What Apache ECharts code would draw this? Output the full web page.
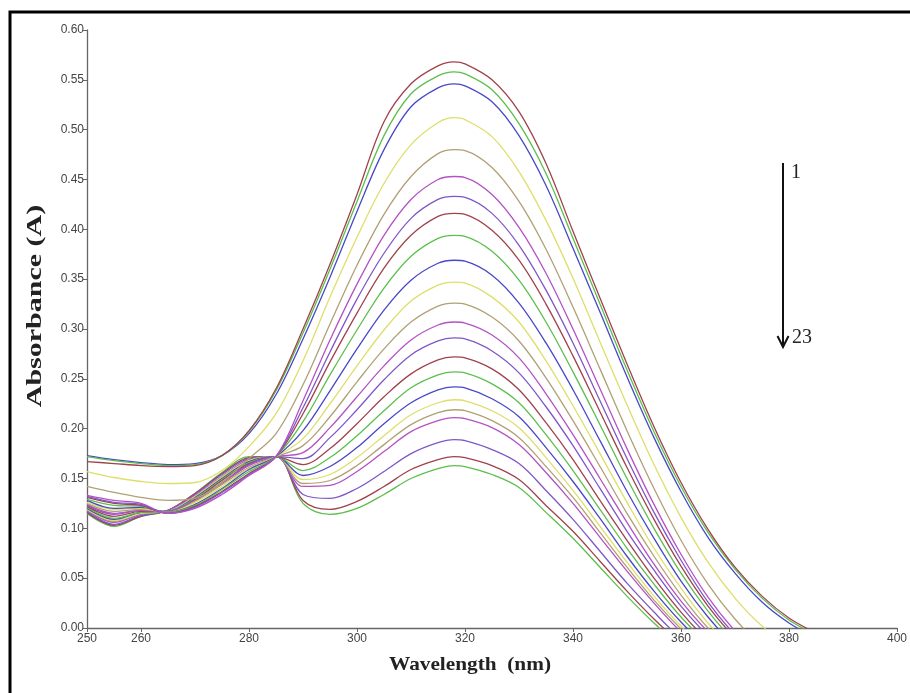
<!DOCTYPE html>
<html>
<head>
<meta charset="utf-8">
<script src="https://cdn.jsdelivr.net/npm/echarts@6/dist/echarts.min.js"></script>
<style>
html,body{margin:0;padding:0;background:#fff;}
#chart{width:910px;height:693px;}
</style>
</head>
<body>
<div id="chart"></div>
<script>
// wavelengths (nm)
const wavelengths = [250,255,260,265,270,275,280,285,290,295,300,305,310,315,318,320,325,330,335,340,345,350,355,360,365,370,375,380,385];
// x tick labels
const xTicks = [250,260,280,300,320,340,360,380,400];

// absorbance spectra 1..23
const s1  = [0.167,0.165,0.163,0.162,0.163,0.173,0.198,0.240,0.300,0.365,0.435,0.508,0.546,0.564,0.568,0.566,0.550,0.518,0.466,0.398,0.331,0.265,0.202,0.146,0.099,0.061,0.032,0.010,-0.005];
const s2  = [0.172,0.168,0.165,0.163,0.164,0.173,0.197,0.238,0.296,0.360,0.428,0.494,0.536,0.554,0.558,0.556,0.540,0.506,0.456,0.391,0.325,0.259,0.197,0.142,0.096,0.059,0.030,0.008,-0.007];
const s3  = [0.173,0.169,0.166,0.164,0.165,0.173,0.195,0.234,0.290,0.352,0.418,0.480,0.523,0.542,0.546,0.544,0.528,0.494,0.444,0.381,0.317,0.252,0.191,0.137,0.091,0.055,0.026,0.005,-0.010];
const s4  = [0.157,0.151,0.147,0.145,0.146,0.158,0.182,0.215,0.268,0.332,0.392,0.446,0.485,0.507,0.512,0.510,0.493,0.458,0.409,0.351,0.287,0.224,0.164,0.111,0.066,0.030,0.002,-0.018,-0.033];
const s5  = [0.142,0.136,0.131,0.128,0.130,0.146,0.170,0.195,0.244,0.305,0.364,0.415,0.453,0.476,0.480,0.479,0.462,0.428,0.380,0.322,0.260,0.198,0.140,0.088,0.044,0.009,-0.018,-0.038,-0.053];
const s6  = [0.133,0.128,0.125,0.115,0.120,0.134,0.153,0.172,0.228,0.289,0.345,0.394,0.430,0.450,0.453,0.452,0.435,0.402,0.356,0.300,0.240,0.180,0.124,0.074,0.031,-0.003,-0.030,-0.049,-0.063];
const s7  = [0.132,0.126,0.124,0.115,0.121,0.136,0.154,0.172,0.221,0.277,0.330,0.376,0.411,0.430,0.433,0.432,0.416,0.384,0.339,0.286,0.228,0.170,0.116,0.068,0.026,-0.007,-0.033,-0.051,-0.065];
const s8  = [0.131,0.125,0.123,0.115,0.122,0.137,0.155,0.172,0.215,0.267,0.316,0.361,0.394,0.413,0.416,0.415,0.399,0.369,0.325,0.273,0.217,0.161,0.109,0.062,0.022,-0.010,-0.035,-0.053,-0.066];
const s9  = [0.129,0.123,0.122,0.116,0.123,0.139,0.157,0.172,0.207,0.254,0.299,0.341,0.373,0.391,0.394,0.393,0.378,0.349,0.307,0.257,0.204,0.150,0.100,0.055,0.017,-0.014,-0.038,-0.055,-0.068];
const s10 = [0.128,0.120,0.121,0.116,0.124,0.140,0.159,0.172,0.198,0.238,0.280,0.319,0.349,0.366,0.369,0.368,0.354,0.326,0.286,0.239,0.188,0.137,0.090,0.047,0.011,-0.018,-0.041,-0.057,-0.069];
const s11 = [0.126,0.119,0.120,0.116,0.126,0.142,0.160,0.172,0.190,0.225,0.263,0.299,0.328,0.344,0.347,0.346,0.332,0.307,0.268,0.223,0.175,0.126,0.080,0.040,0.005,-0.022,-0.044,-0.060,-0.071];
const s12 = [0.125,0.117,0.119,0.116,0.127,0.144,0.161,0.172,0.183,0.212,0.247,0.280,0.307,0.323,0.326,0.325,0.312,0.288,0.251,0.208,0.162,0.115,0.072,0.033,0.000,-0.026,-0.047,-0.062,-0.073];
const s13 = [0.124,0.115,0.118,0.117,0.128,0.145,0.163,0.172,0.176,0.201,0.232,0.263,0.289,0.304,0.307,0.306,0.294,0.271,0.235,0.194,0.150,0.106,0.064,0.027,-0.004,-0.030,-0.049,-0.064,-0.074];
const s14 = [0.123,0.114,0.118,0.117,0.128,0.146,0.164,0.172,0.170,0.191,0.219,0.249,0.274,0.288,0.291,0.290,0.278,0.256,0.222,0.183,0.140,0.097,0.058,0.022,-0.008,-0.033,-0.051,-0.065,-0.075];
const s15 = [0.122,0.112,0.117,0.117,0.129,0.148,0.165,0.172,0.164,0.180,0.205,0.232,0.255,0.269,0.272,0.271,0.260,0.239,0.206,0.169,0.128,0.088,0.050,0.016,-0.013,-0.036,-0.054,-0.067,-0.077];
const s16 = [0.121,0.110,0.116,0.117,0.130,0.149,0.166,0.172,0.158,0.171,0.193,0.218,0.241,0.254,0.257,0.256,0.245,0.226,0.194,0.158,0.119,0.080,0.044,0.011,-0.016,-0.039,-0.056,-0.069,-0.078];
const s17 = [0.120,0.109,0.116,0.117,0.131,0.150,0.167,0.172,0.153,0.162,0.181,0.205,0.226,0.239,0.242,0.241,0.230,0.212,0.181,0.147,0.110,0.072,0.037,0.006,-0.020,-0.042,-0.058,-0.070,-0.079];
const s18 = [0.119,0.108,0.115,0.117,0.132,0.151,0.168,0.172,0.149,0.154,0.171,0.193,0.214,0.226,0.229,0.228,0.218,0.201,0.171,0.138,0.102,0.066,0.032,0.002,-0.023,-0.044,-0.059,-0.071,-0.080];
const s19 = [0.119,0.107,0.115,0.117,0.132,0.152,0.168,0.172,0.145,0.148,0.163,0.184,0.204,0.216,0.219,0.218,0.208,0.191,0.162,0.131,0.096,0.061,0.028,-0.001,-0.026,-0.046,-0.061,-0.072,-0.081];
const s20 = [0.118,0.106,0.114,0.118,0.133,0.152,0.169,0.172,0.142,0.143,0.157,0.177,0.197,0.208,0.211,0.210,0.201,0.184,0.156,0.125,0.091,0.057,0.025,-0.004,-0.027,-0.047,-0.062,-0.073,-0.081];
const s21 = [0.117,0.104,0.113,0.118,0.134,0.154,0.170,0.172,0.134,0.130,0.140,0.157,0.175,0.186,0.189,0.188,0.179,0.165,0.138,0.109,0.077,0.045,0.016,-0.011,-0.033,-0.051,-0.065,-0.075,-0.083];
const s22 = [0.116,0.103,0.112,0.118,0.135,0.155,0.171,0.172,0.128,0.119,0.127,0.142,0.159,0.169,0.172,0.171,0.163,0.149,0.123,0.097,0.067,0.037,0.009,-0.016,-0.037,-0.054,-0.067,-0.077,-0.084];
const s23 = [0.115,0.102,0.112,0.118,0.135,0.156,0.172,0.172,0.125,0.114,0.120,0.134,0.150,0.160,0.163,0.162,0.154,0.141,0.116,0.090,0.061,0.032,0.005,-0.019,-0.039,-0.056,-0.068,-0.078,-0.085];

const spectra = [s1,s2,s3,s4,s5,s6,s7,s8,s9,s10,s11,s12,s13,s14,s15,s16,s17,s18,s19,s20,s21,s22,s23];
const palette = ['#a0424c','#5cbf4c','#4848c8','#dede6a','#b0a074','#b452c4','#7e58c8'];

const chart = echarts.init(document.getElementById('chart'), null, {renderer:'canvas'});

const series = spectra.map((s, k) => ({
  type: 'line',
  name: String(k+1),
  data: wavelengths.map((w, i) => [w, s[i]]),
  smooth: 0.35,
  showSymbol: false,
  clip: true,
  z: 30 - k,
  lineStyle: { width: 1.3, color: palette[k % 7] },
  emphasis: { disabled: true }
}));

const axisFont = '"Liberation Sans Narrow","Arial Narrow","Liberation Sans",Arial,sans-serif';
const serif = '"Liberation Serif","Times New Roman",serif';

chart.setOption({
  animation: false,
  backgroundColor: '#fff',
  grid: { left: 87, right: 7, top: 30, bottom: 65, containLabel: false },
  xAxis: {
    type: 'value', min: 250, max: 400,
    axisLine: { show: true, lineStyle: { color: '#666', width: 1.3 } },
    axisTick: { show: true, length: 4, inside: false, customValues: xTicks, lineStyle: { color: '#666' } },
    axisLabel: { customValues: xTicks, color: '#444', fontSize: 12, fontFamily: axisFont, margin: 5 },
    splitLine: { show: false }
  },
  yAxis: {
    type: 'value', min: 0, max: 0.6, interval: 0.05,
    axisLine: { show: true, lineStyle: { color: '#666', width: 1.3 } },
    axisTick: { show: true, length: 4, lineStyle: { color: '#666' } },
    axisLabel: { color: '#444', fontSize: 12, fontFamily: axisFont, margin: 3, formatter: v => v.toFixed(2) },
    splitLine: { show: false }
  },
  series: series,
  graphic: [
    { type: 'rect', shape: { x: 10, y: 12, width: 940, height: 720 }, style: { fill: null, stroke: '#000', lineWidth: 3 }, z: 100 },
    { type: 'text', x: 36, y: 306, rotation: Math.PI/2, scaleX: 1.5, style: { text: 'Absorbance (A)', font: 'bold 20px ' + serif, fill: '#222', align: 'center', verticalAlign: 'middle' }, z: 100 },
    { type: 'text', x: 470, y: 665, scaleX: 1.12, style: { text: 'Wavelength  (nm)', font: 'bold 19px ' + serif, fill: '#222', align: 'center', verticalAlign: 'middle' }, z: 100 },
    { type: 'line', shape: { x1: 783, y1: 163, x2: 783, y2: 346 }, style: { stroke: '#111', lineWidth: 2 }, z: 100 },
    { type: 'polyline', shape: { points: [[777.5, 336], [783, 347], [788.5, 336]] }, style: { stroke: '#111', lineWidth: 2, fill: null }, z: 100 },
    { type: 'text', x: 791, y: 173, style: { text: '1', font: '20px ' + serif, fill: '#222', align: 'left', verticalAlign: 'middle' }, z: 100 },
    { type: 'text', x: 792, y: 338, style: { text: '23', font: '20px ' + serif, fill: '#222', align: 'left', verticalAlign: 'middle' }, z: 100 }
  ]
});
</script>
</body>
</html>
